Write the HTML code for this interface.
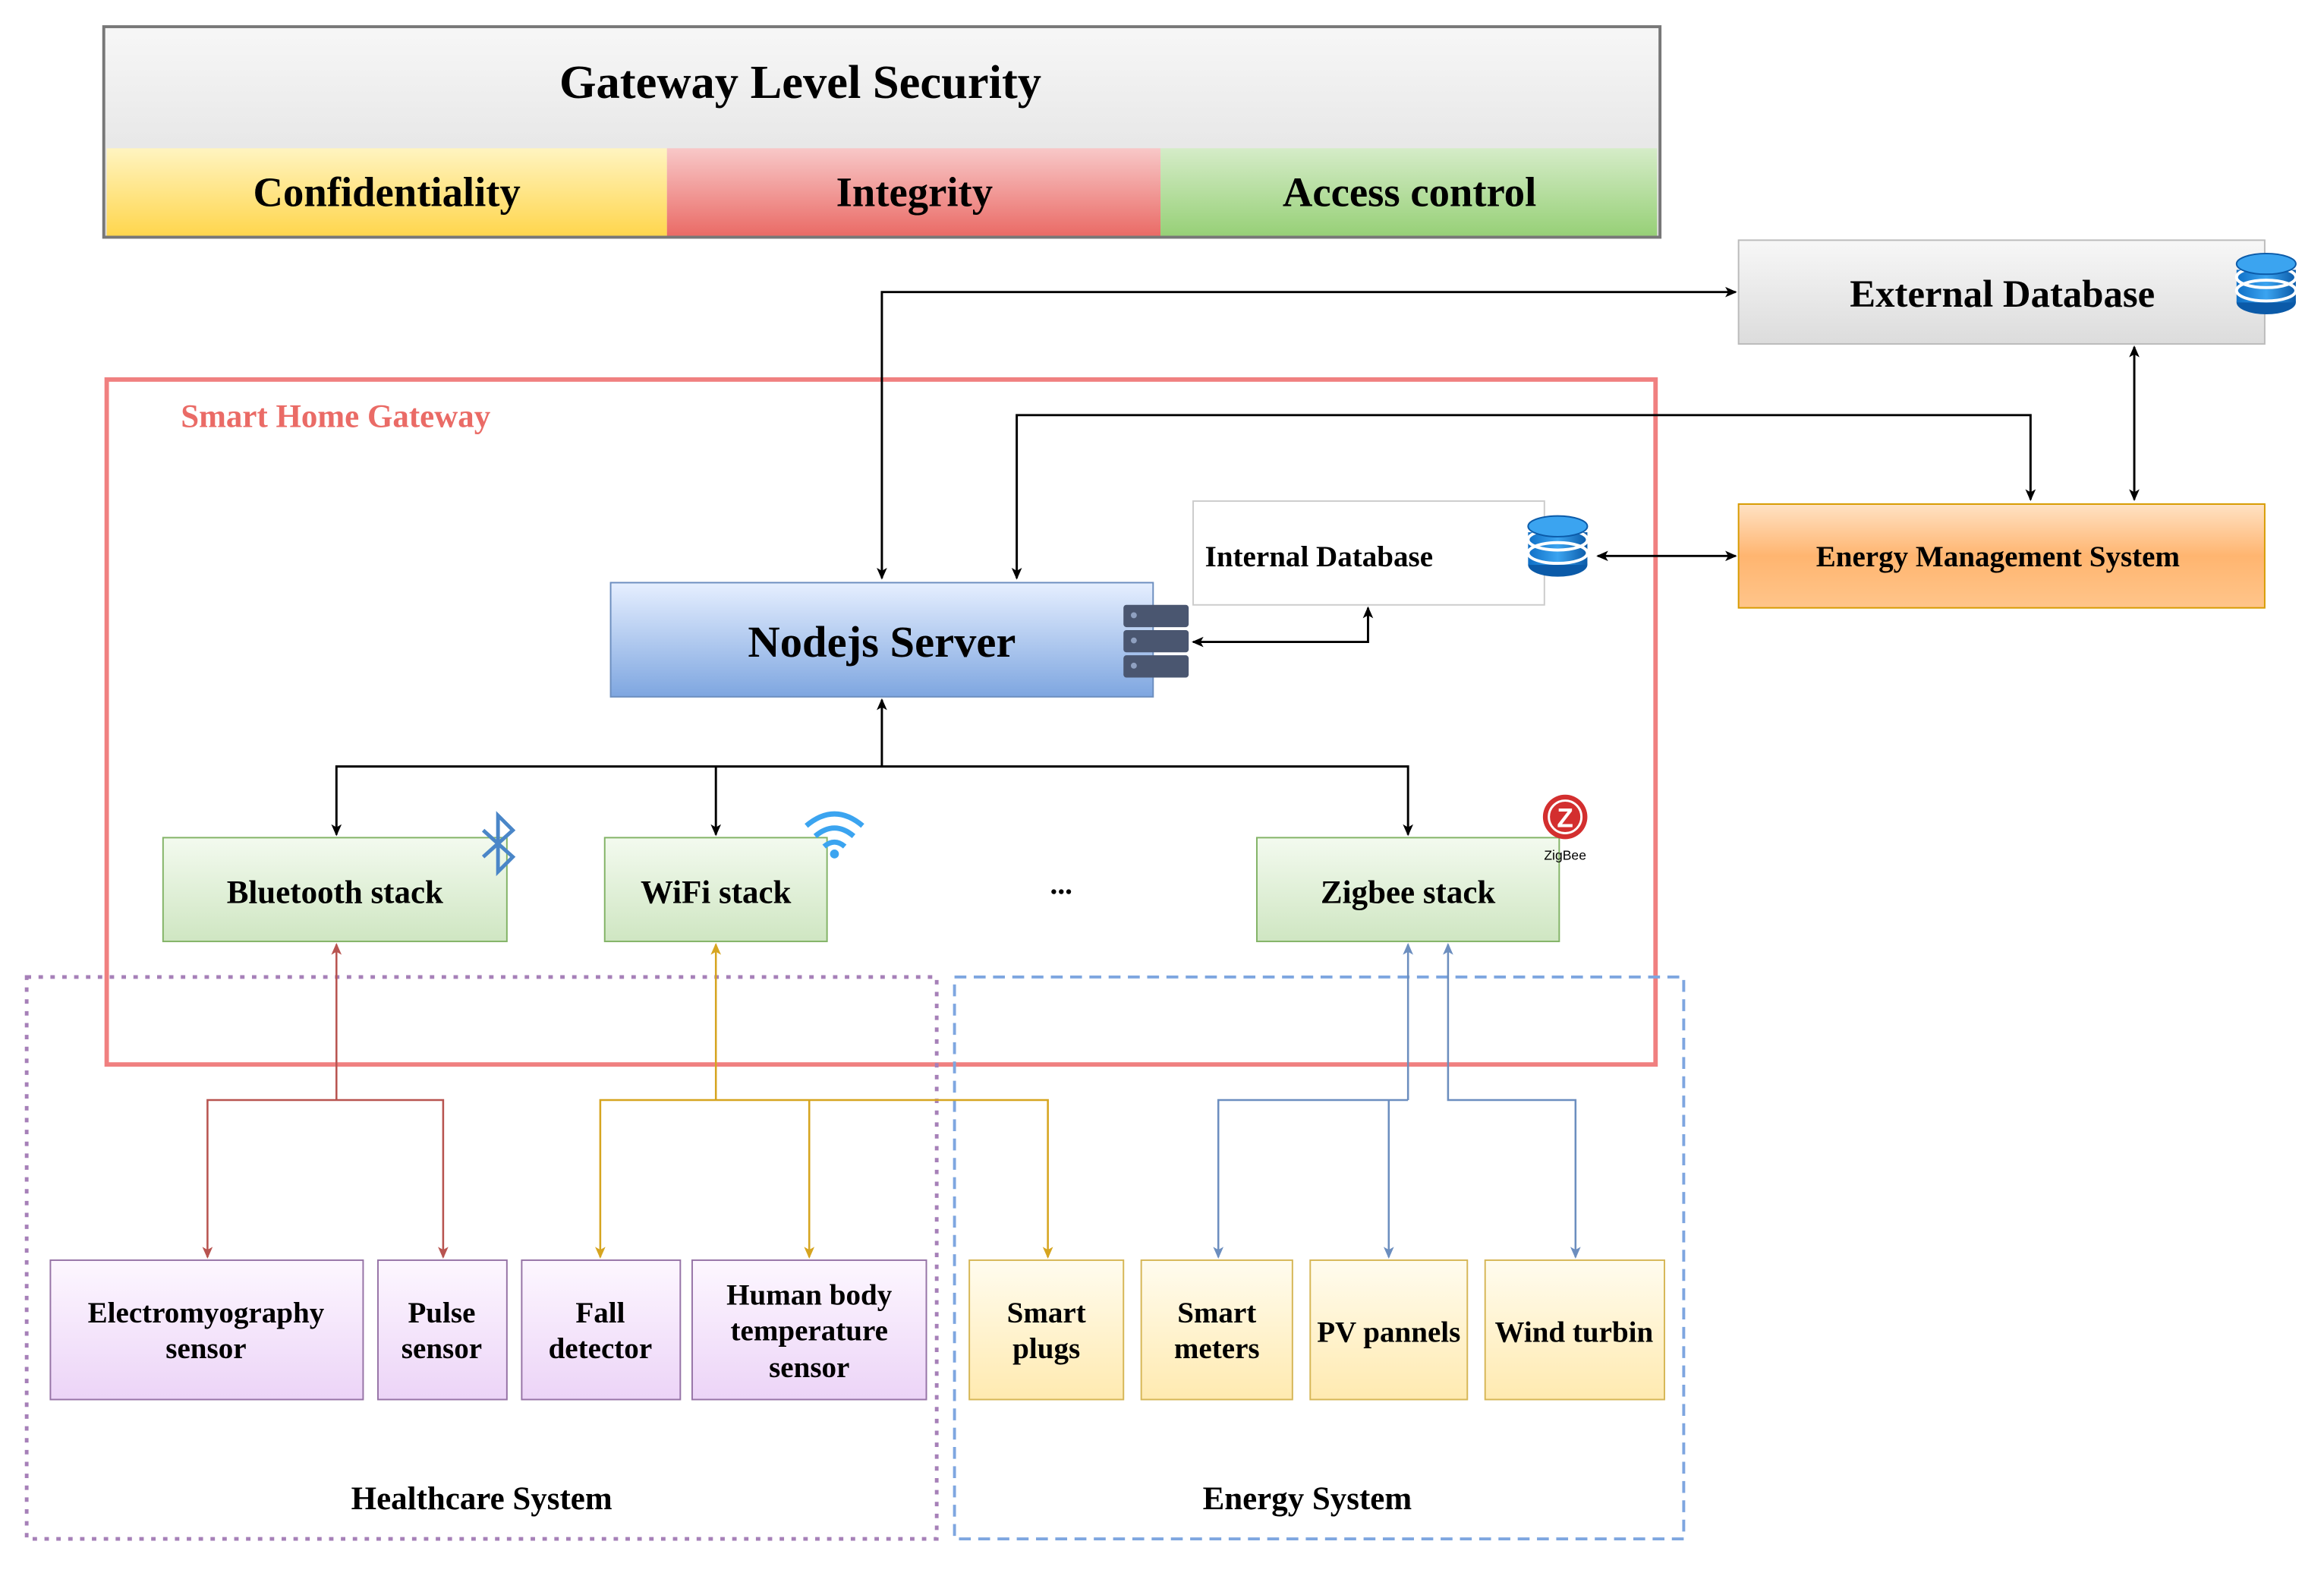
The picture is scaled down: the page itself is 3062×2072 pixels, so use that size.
<!DOCTYPE html>
<html><head><meta charset="utf-8"><style>html,body{margin:0;padding:0;background:#fff}svg{display:block}text{font-family:"Liberation Serif",serif;font-weight:bold;fill:#000}</style></head><body>
<svg width="3062" height="2072" viewBox="0 0 1568 1061" preserveAspectRatio="none" xmlns="http://www.w3.org/2000/svg">
<defs>
<linearGradient id="gh" x1="0" y1="0" x2="0" y2="1"><stop offset="0" stop-color="#f7f7f7"/><stop offset="1" stop-color="#dcdcdc"/></linearGradient>
<linearGradient id="gy" x1="0" y1="0" x2="0" y2="1"><stop offset="0" stop-color="#fff4c0"/><stop offset="1" stop-color="#ffd64d"/></linearGradient>
<linearGradient id="gr" x1="0" y1="0" x2="0" y2="1"><stop offset="0" stop-color="#f8c8c8"/><stop offset="1" stop-color="#ea6b66"/></linearGradient>
<linearGradient id="gg" x1="0" y1="0" x2="0" y2="1"><stop offset="0" stop-color="#d5ecc8"/><stop offset="1" stop-color="#97d077"/></linearGradient>
<linearGradient id="go" x1="0" y1="0" x2="0" y2="1"><stop offset="0" stop-color="#ffe2c4"/><stop offset="0.5" stop-color="#ffb570"/><stop offset="1" stop-color="#ffc58a"/></linearGradient>
<linearGradient id="gb" x1="0" y1="0" x2="0" y2="1"><stop offset="0" stop-color="#e6efff"/><stop offset="1" stop-color="#7ea6e0"/></linearGradient>
<linearGradient id="gs" x1="0" y1="0" x2="0" y2="1"><stop offset="0" stop-color="#f3faef"/><stop offset="1" stop-color="#cfe6c2"/></linearGradient>
<linearGradient id="gp" x1="0" y1="0" x2="0" y2="1"><stop offset="0" stop-color="#fdf7ff"/><stop offset="1" stop-color="#ecd4f7"/></linearGradient>
<linearGradient id="gyl" x1="0" y1="0" x2="0" y2="1"><stop offset="0" stop-color="#fffcef"/><stop offset="1" stop-color="#ffeab0"/></linearGradient>
<linearGradient id="gdb" x1="0" y1="0" x2="1" y2="0"><stop offset="0" stop-color="#0f6fc6"/><stop offset="0.5" stop-color="#3ba4f0"/><stop offset="1" stop-color="#0b5aa8"/></linearGradient>
<marker id="ak" markerWidth="8" markerHeight="8" refX="7" refY="4" orient="auto-start-reverse" markerUnits="userSpaceOnUse"><path d="M0,0.5 L8,4 L0,7.5 L2,4z" fill="#000"/></marker>
<marker id="ar" markerWidth="8" markerHeight="8" refX="7" refY="4" orient="auto-start-reverse" markerUnits="userSpaceOnUse"><path d="M0,0.5 L8,4 L0,7.5 L2,4z" fill="#b85450"/></marker>
<marker id="ao" markerWidth="8" markerHeight="8" refX="7" refY="4" orient="auto-start-reverse" markerUnits="userSpaceOnUse"><path d="M0,0.5 L8,4 L0,7.5 L2,4z" fill="#d6a520"/></marker>
<marker id="ab" markerWidth="8" markerHeight="8" refX="7" refY="4" orient="auto-start-reverse" markerUnits="userSpaceOnUse"><path d="M0,0.5 L8,4 L0,7.5 L2,4z" fill="#6c8ebf"/></marker>
<g id="db"><ellipse cx="0" cy="30" rx="20" ry="8" fill="#0b5aa8"/><rect x="-20" y="8" width="40" height="22" fill="url(#gdb)"/><ellipse cx="0" cy="22" rx="20" ry="7" fill="none" stroke="#fff" stroke-width="2"/><ellipse cx="0" cy="13" rx="20" ry="7" fill="none" stroke="#fff" stroke-width="2"/><ellipse cx="0" cy="4" rx="20" ry="7" fill="#3ba4f0" stroke="#0b5aa8"/></g>
</defs>

<rect x="70" y="18" width="1050" height="142" fill="url(#gh)" stroke="#777" stroke-width="2"/>
<text x="540" y="66" font-size="32" text-anchor="middle">Gateway Level Security</text>
<rect x="72" y="100" width="378" height="59" fill="url(#gy)"/>
<rect x="450" y="100" width="333" height="59" fill="url(#gr)"/>
<rect x="783" y="100" width="335" height="59" fill="url(#gg)"/>
<text x="261" y="139" font-size="28" text-anchor="middle">Confidentiality</text>
<text x="617" y="139" font-size="28" text-anchor="middle">Integrity</text>
<text x="951" y="139" font-size="28" text-anchor="middle">Access control</text>

<rect x="1173" y="162" width="355" height="70" fill="url(#gh)" stroke="#bbb"/>
<text x="1351" y="207" font-size="26" text-anchor="middle">External Database</text>
<use href="#db" x="1529" y="174"/>

<rect x="72" y="256" width="1045" height="462" fill="none" stroke="#f08080" stroke-width="3"/>
<text x="122" y="288" font-size="22" style="fill:#ea6b66">Smart Home Gateway</text>

<rect x="1173" y="340" width="355" height="70" fill="url(#go)" stroke="#d79b00"/>
<text x="1348" y="382" font-size="20" text-anchor="middle">Energy Management System</text>

<rect x="805" y="338" width="237" height="70" fill="#fff" stroke="#ccc"/>
<text x="813" y="382" font-size="20">Internal Database</text>
<use href="#db" x="1051" y="351"/>

<rect x="412" y="393" width="366" height="77" fill="url(#gb)" stroke="#6c8ebf"/>
<text x="595" y="443" font-size="30" text-anchor="middle">Nodejs Server</text>
<g fill="#4a5670"><rect x="758" y="408" width="44" height="15" rx="2"/><rect x="758" y="425" width="44" height="15" rx="2"/><rect x="758" y="442" width="44" height="15" rx="2"/></g>
<g fill="#8fa0c0"><circle cx="765" cy="415" r="2"/><circle cx="765" cy="432" r="2"/><circle cx="765" cy="449" r="2"/></g>

<rect x="110" y="565" width="232" height="70" fill="url(#gs)" stroke="#82b366"/>
<text x="226" y="609" font-size="22" text-anchor="middle">Bluetooth stack</text>
<rect x="408" y="565" width="150" height="70" fill="url(#gs)" stroke="#82b366"/>
<text x="483" y="609" font-size="22" text-anchor="middle">WiFi stack</text>
<rect x="848" y="565" width="204" height="70" fill="url(#gs)" stroke="#82b366"/>
<text x="950" y="609" font-size="22" text-anchor="middle">Zigbee stack</text>
<text x="716" y="603" font-size="20" text-anchor="middle">...</text>
<path d="M326,560 L346,578 L336,588 L336,550 L346,560 L326,578" fill="none" stroke="#4a86c8" stroke-width="2.5"/>
<g fill="none" stroke="#3ba4f0" stroke-width="3.5"><path d="M544,557 Q563,541 582,557"/><path d="M550,564 Q563,553 576,564"/><path d="M556,571 Q563,565 570,571"/></g>
<circle cx="563" cy="576" r="3" fill="#3ba4f0"/>
<circle cx="1056" cy="551" r="15" fill="#d32f2f"/><circle cx="1056" cy="551" r="11" fill="none" stroke="#fff" stroke-width="1.5"/>
<text x="1056" y="558" font-size="18" text-anchor="middle" style="fill:#fff;font-family:'Liberation Sans',sans-serif">Z</text>
<text x="1056" y="580" font-size="9" text-anchor="middle" style="font-family:'Liberation Sans',sans-serif;font-weight:normal">ZigBee</text>

<g fill="none" stroke="#000" stroke-width="1.5">
<path d="M595,390 L595,197 L1171,197" marker-start="url(#ak)" marker-end="url(#ak)"/>
<path d="M686,390 L686,280 L1370,280 L1370,337" marker-start="url(#ak)" marker-end="url(#ak)"/>
<path d="M1440,234 L1440,337" marker-start="url(#ak)" marker-end="url(#ak)"/>
<path d="M1078,375 L1171,375" marker-start="url(#ak)" marker-end="url(#ak)"/>
<path d="M805,433 L923,433 L923,410" marker-start="url(#ak)" marker-end="url(#ak)"/>
<path d="M595,517 L595,472" marker-end="url(#ak)"/>
<path d="M227,563 L227,517 L950,517 L950,563" marker-start="url(#ak)" marker-end="url(#ak)"/>
<path d="M483,517 L483,563" marker-end="url(#ak)"/>
</g>

<rect x="18" y="659" width="614" height="379" fill="none" stroke="#a680b8" stroke-width="2.5" stroke-dasharray="3,5"/>
<rect x="644" y="659" width="492" height="379" fill="none" stroke="#7ea6e0" stroke-width="2" stroke-dasharray="8,5"/>

<g fill="none" stroke-width="1.3">
<g stroke="#b85450"><path d="M227,742 L227,637" marker-end="url(#ar)"/><path d="M140,848 L140,742 L299,742 L299,848" marker-start="url(#ar)" marker-end="url(#ar)"/></g>
<g stroke="#d6a520"><path d="M483,742 L483,637" marker-end="url(#ao)"/><path d="M405,848 L405,742 L707,742 L707,848" marker-start="url(#ao)" marker-end="url(#ao)"/><path d="M546,742 L546,848" marker-end="url(#ao)"/></g>
<g stroke="#6c8ebf"><path d="M950,742 L950,637" marker-end="url(#ab)"/><path d="M822,848 L822,742 L950,742"  marker-start="url(#ab)"/><path d="M937,742 L937,848" marker-end="url(#ab)"/><path d="M977,637 L977,742 L1063,742 L1063,848" marker-start="url(#ab)" marker-end="url(#ab)"/></g>
</g>

<g stroke="#9673a6" fill="url(#gp)"><rect x="34" y="850" width="211" height="94"/><rect x="255" y="850" width="87" height="94"/><rect x="352" y="850" width="107" height="94"/><rect x="467" y="850" width="158" height="94"/></g>
<g stroke="#d6b656" fill="url(#gyl)"><rect x="654" y="850" width="104" height="94"/><rect x="770" y="850" width="102" height="94"/><rect x="884" y="850" width="106" height="94"/><rect x="1002" y="850" width="121" height="94"/></g>
<g font-size="20" text-anchor="middle">
<text x="139" y="892">Electromyography</text><text x="139" y="916">sensor</text>
<text x="298" y="892">Pulse</text><text x="298" y="916">sensor</text>
<text x="405" y="892">Fall</text><text x="405" y="916">detector</text>
<text x="546" y="880">Human body</text><text x="546" y="904">temperature</text><text x="546" y="929">sensor</text>
<text x="706" y="892">Smart</text><text x="706" y="916">plugs</text>
<text x="821" y="892">Smart</text><text x="821" y="916">meters</text>
<text x="937" y="905">PV pannels</text>
<text x="1062" y="905">Wind turbin</text>
</g>
<text x="325" y="1018" font-size="22" text-anchor="middle">Healthcare System</text>
<text x="882" y="1018" font-size="22" text-anchor="middle">Energy System</text>
</svg>
</body></html>
